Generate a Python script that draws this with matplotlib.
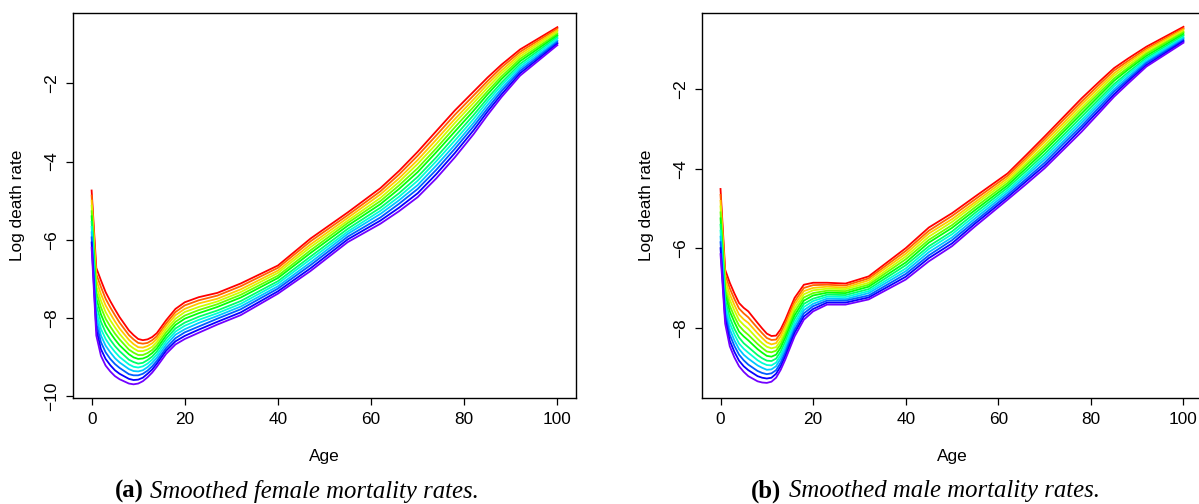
"""
Smoothed female / male log mortality curves, one line per year
(earliest year red, latest year violet).
"""

import matplotlib
matplotlib.use("Agg")  # no display
import matplotlib.pyplot as plt
import numpy as np

# age grid of each panel
ages_f = [0, 1, 2, 3, 4, 5, 6, 8, 9, 10, 11, 12, 13, 14, 16, 18, 20, 23, 27, 32,
          40, 47, 55, 62, 66, 70, 74, 78, 82, 85, 88, 92, 100]
ages_m = [0, 1, 2, 3, 4, 5, 6, 8, 9, 10, 11, 12, 13, 14, 15, 16, 18, 20, 23, 27, 32,
          40, 45, 50, 55, 62, 66, 70, 74, 78, 82, 85, 88, 92, 100]

# log death rates, one row per year (oldest first)
female_logm = [
    [-4.74, -6.72, -7.04, -7.34, -7.57, -7.78, -7.98, -8.32, -8.44, -8.54, -8.57, -8.55, -8.49, -8.39, -8.06, -7.77, -7.60, -7.47, -7.36, -7.12, -6.66, -5.97, -5.30, -4.68, -4.24, -3.75, -3.22, -2.69, -2.21, -1.85, -1.52, -1.13, -0.56],
    [-4.87, -6.88, -7.21, -7.51, -7.73, -7.93, -8.12, -8.44, -8.55, -8.64, -8.66, -8.64, -8.57, -8.47, -8.14, -7.85, -7.68, -7.55, -7.43, -7.19, -6.72, -6.04, -5.37, -4.76, -4.33, -3.85, -3.33, -2.80, -2.31, -1.94, -1.59, -1.19, -0.60],
    [-5.00, -7.03, -7.39, -7.68, -7.89, -8.09, -8.27, -8.56, -8.67, -8.75, -8.76, -8.72, -8.65, -8.54, -8.21, -7.93, -7.77, -7.63, -7.51, -7.27, -6.79, -6.12, -5.44, -4.84, -4.43, -3.96, -3.44, -2.91, -2.41, -2.02, -1.67, -1.25, -0.64],
    [-5.13, -7.19, -7.56, -7.85, -8.06, -8.24, -8.41, -8.69, -8.78, -8.85, -8.85, -8.81, -8.74, -8.62, -8.29, -8.02, -7.85, -7.72, -7.58, -7.34, -6.85, -6.19, -5.51, -4.93, -4.52, -4.06, -3.55, -3.01, -2.50, -2.11, -1.74, -1.31, -0.68],
    [-5.27, -7.34, -7.73, -8.02, -8.22, -8.40, -8.55, -8.81, -8.89, -8.95, -8.95, -8.90, -8.82, -8.70, -8.37, -8.10, -7.94, -7.80, -7.65, -7.41, -6.92, -6.27, -5.57, -5.01, -4.61, -4.17, -3.66, -3.12, -2.60, -2.20, -1.82, -1.37, -0.73],
    [-5.40, -7.50, -7.91, -8.19, -8.38, -8.55, -8.70, -8.93, -9.01, -9.05, -9.04, -8.99, -8.90, -8.78, -8.45, -8.18, -8.02, -7.88, -7.72, -7.48, -6.98, -6.34, -5.64, -5.09, -4.70, -4.27, -3.76, -3.23, -2.70, -2.28, -1.89, -1.43, -0.77],
    [-5.54, -7.67, -8.10, -8.37, -8.56, -8.72, -8.85, -9.07, -9.13, -9.17, -9.15, -9.08, -8.99, -8.86, -8.53, -8.27, -8.12, -7.97, -7.81, -7.57, -7.06, -6.43, -5.72, -5.18, -4.81, -4.39, -3.89, -3.35, -2.81, -2.38, -1.98, -1.50, -0.81],
    [-5.67, -7.83, -8.28, -8.54, -8.72, -8.87, -9.00, -9.19, -9.25, -9.27, -9.24, -9.17, -9.07, -8.94, -8.61, -8.35, -8.20, -8.05, -7.88, -7.64, -7.12, -6.50, -5.79, -5.26, -4.90, -4.49, -3.99, -3.46, -2.91, -2.46, -2.05, -1.56, -0.85],
    [-5.81, -7.98, -8.45, -8.71, -8.88, -9.03, -9.14, -9.31, -9.36, -9.37, -9.34, -9.26, -9.15, -9.02, -8.69, -8.43, -8.29, -8.13, -7.95, -7.71, -7.19, -6.58, -5.85, -5.34, -4.99, -4.60, -4.10, -3.57, -3.01, -2.55, -2.13, -1.62, -0.90],
    [-5.94, -8.14, -8.62, -8.88, -9.05, -9.18, -9.28, -9.44, -9.47, -9.47, -9.43, -9.35, -9.24, -9.10, -8.77, -8.52, -8.37, -8.22, -8.02, -7.78, -7.25, -6.65, -5.92, -5.43, -5.08, -4.70, -4.21, -3.67, -3.10, -2.64, -2.20, -1.68, -0.94],
    [-6.07, -8.29, -8.80, -9.05, -9.21, -9.34, -9.43, -9.56, -9.59, -9.58, -9.53, -9.43, -9.32, -9.17, -8.84, -8.60, -8.46, -8.30, -8.10, -7.86, -7.32, -6.73, -5.99, -5.51, -5.18, -4.81, -4.32, -3.78, -3.20, -2.72, -2.28, -1.74, -0.98],
    [-6.20, -8.45, -8.97, -9.22, -9.37, -9.49, -9.57, -9.68, -9.70, -9.68, -9.62, -9.52, -9.40, -9.25, -8.92, -8.68, -8.54, -8.38, -8.17, -7.93, -7.38, -6.80, -6.06, -5.59, -5.27, -4.91, -4.43, -3.89, -3.30, -2.81, -2.35, -1.80, -1.02],
]

male_logm = [
    [-4.51, -6.54, -6.87, -7.14, -7.38, -7.50, -7.59, -7.88, -8.02, -8.15, -8.21, -8.20, -8.04, -7.80, -7.52, -7.25, -6.92, -6.87, -6.87, -6.89, -6.71, -6.00, -5.48, -5.12, -4.70, -4.12, -3.66, -3.19, -2.71, -2.23, -1.79, -1.47, -1.23, -0.93, -0.43],
    [-4.66, -6.66, -7.01, -7.28, -7.52, -7.64, -7.74, -8.01, -8.14, -8.26, -8.31, -8.30, -8.13, -7.89, -7.61, -7.34, -7.00, -6.93, -6.92, -6.94, -6.76, -6.07, -5.56, -5.19, -4.77, -4.18, -3.73, -3.26, -2.78, -2.31, -1.86, -1.53, -1.29, -0.98, -0.47],
    [-4.81, -6.78, -7.16, -7.43, -7.67, -7.79, -7.88, -8.14, -8.26, -8.37, -8.42, -8.39, -8.22, -7.98, -7.70, -7.42, -7.08, -7.00, -6.97, -6.99, -6.81, -6.14, -5.63, -5.27, -4.84, -4.24, -3.79, -3.33, -2.86, -2.38, -1.93, -1.60, -1.34, -1.02, -0.50],
    [-4.95, -6.91, -7.30, -7.57, -7.81, -7.93, -8.03, -8.28, -8.39, -8.48, -8.52, -8.49, -8.32, -8.07, -7.79, -7.51, -7.16, -7.06, -7.02, -7.03, -6.87, -6.21, -5.71, -5.34, -4.90, -4.30, -3.86, -3.41, -2.93, -2.46, -2.00, -1.66, -1.40, -1.07, -0.54],
    [-5.10, -7.03, -7.45, -7.72, -7.95, -8.08, -8.18, -8.41, -8.51, -8.60, -8.62, -8.58, -8.41, -8.16, -7.88, -7.60, -7.24, -7.13, -7.07, -7.08, -6.92, -6.28, -5.79, -5.42, -4.97, -4.36, -3.92, -3.48, -3.01, -2.53, -2.07, -1.73, -1.46, -1.11, -0.57],
    [-5.25, -7.15, -7.59, -7.86, -8.10, -8.22, -8.32, -8.54, -8.63, -8.71, -8.73, -8.68, -8.50, -8.25, -7.97, -7.69, -7.32, -7.19, -7.12, -7.13, -6.97, -6.36, -5.86, -5.49, -5.04, -4.42, -3.99, -3.55, -3.08, -2.61, -2.14, -1.79, -1.51, -1.16, -0.61],
    [-5.41, -7.29, -7.75, -8.03, -8.25, -8.39, -8.49, -8.69, -8.77, -8.83, -8.84, -8.78, -8.60, -8.35, -8.06, -7.78, -7.40, -7.27, -7.17, -7.18, -7.03, -6.43, -5.95, -5.58, -5.11, -4.48, -4.06, -3.63, -3.16, -2.69, -2.22, -1.87, -1.58, -1.21, -0.65],
    [-5.56, -7.41, -7.89, -8.17, -8.40, -8.53, -8.63, -8.82, -8.89, -8.94, -8.95, -8.88, -8.69, -8.44, -8.15, -7.87, -7.48, -7.33, -7.22, -7.23, -7.08, -6.51, -6.02, -5.65, -5.18, -4.54, -4.13, -3.70, -3.23, -2.77, -2.29, -1.93, -1.63, -1.25, -0.69],
    [-5.71, -7.53, -8.04, -8.32, -8.54, -8.68, -8.78, -8.95, -9.01, -9.06, -9.05, -8.97, -8.78, -8.53, -8.24, -7.96, -7.56, -7.40, -7.27, -7.28, -7.13, -6.58, -6.10, -5.73, -5.25, -4.60, -4.19, -3.77, -3.31, -2.84, -2.36, -2.00, -1.69, -1.30, -0.72],
    [-5.85, -7.66, -8.18, -8.46, -8.68, -8.82, -8.93, -9.09, -9.14, -9.17, -9.15, -9.07, -8.88, -8.62, -8.33, -8.05, -7.64, -7.46, -7.32, -7.32, -7.19, -6.65, -6.18, -5.80, -5.32, -4.66, -4.26, -3.85, -3.38, -2.92, -2.43, -2.06, -1.75, -1.34, -0.76],
    [-6.00, -7.78, -8.33, -8.61, -8.83, -8.97, -9.07, -9.22, -9.26, -9.28, -9.26, -9.16, -8.97, -8.71, -8.42, -8.13, -7.72, -7.53, -7.37, -7.37, -7.24, -6.72, -6.25, -5.88, -5.38, -4.72, -4.32, -3.92, -3.46, -2.99, -2.50, -2.13, -1.80, -1.39, -0.79],
    [-6.15, -7.90, -8.47, -8.75, -8.97, -9.11, -9.22, -9.35, -9.38, -9.39, -9.36, -9.26, -9.06, -8.80, -8.51, -8.22, -7.80, -7.59, -7.42, -7.42, -7.29, -6.79, -6.33, -5.95, -5.45, -4.78, -4.39, -3.99, -3.53, -3.07, -2.57, -2.19, -1.86, -1.43, -0.83],
]

xticks = [0, 20, 40, 60, 80, 100]
yticks_f = [-10, -8, -6, -4, -2]
yticks_m = [-8, -6, -4, -2]

SANS = "Liberation Sans"
SERIF = "Liberation Serif"


def draw_panel(ax, ages, rows, ylim, yticks):
    colors = plt.cm.hsv(np.linspace(0, 0.75, len(rows)))
    for i, row in enumerate(rows):
        ax.plot(ages, row, color=colors[i], lw=1.3, solid_joinstyle="round")

    ax.set_xlim(-4, 104)
    ax.set_ylim(*ylim)
    ax.set_xticks(xticks)
    ax.set_yticks(yticks)
    ax.tick_params(direction="out", length=4.8, width=0.9, pad=5.5,
                   labelsize=12.4)
    ax.tick_params(axis="y", labelrotation=90)
    for lab in ax.get_yticklabels():
        lab.set_va("center")
        lab.set_fontfamily(SANS)
    for lab in ax.get_xticklabels():
        lab.set_fontfamily(SANS)
    for sp in ax.spines.values():
        sp.set_linewidth(1.0)

    ax.set_xlabel("Age", fontsize=12.4, family=SANS)
    ax.xaxis.set_label_coords(0.5, -0.152)
    ax.xaxis.label.set_va("center")
    ax.set_ylabel("Log death rate", fontsize=12.4, family=SANS)
    ax.yaxis.set_label_coords(-0.111, 0.5)
    ax.yaxis.label.set_va("center")


def main():
    W, H = 1199, 504
    fig = plt.figure(figsize=(W / 100, H / 100), dpi=100)

    ax1 = fig.add_axes([73 / W, 1 - 398 / H, 503 / W, 385.3 / H])
    draw_panel(ax1, ages_f, female_logm, (-10.05, -0.19), yticks_f)

    ax2 = fig.add_axes([702 / W, 1 - 398 / H, 500 / W, 385.3 / H])
    draw_panel(ax2, ages_m, male_logm, (-9.77, -0.075), yticks_m)

    # sub-captions
    yc = 1 - 491.5 / H
    fs = 17.8
    fig.text(115 / W, yc, "(a)", family=SERIF, fontweight="bold", fontsize=fs,
             ha="left", va="center")
    fig.text(150 / W, yc, "Smoothed female mortality rates.", family=SERIF,
             style="italic", fontsize=fs, ha="left", va="center")
    fig.text(751 / W, yc, "(b)", family=SERIF, fontweight="bold", fontsize=fs,
             ha="left", va="center")
    fig.text(789 / W, yc, "Smoothed male mortality rates.", family=SERIF,
             style="italic", fontsize=fs, ha="left", va="center")

    fig.savefig("out.png", dpi=100)
    plt.close(fig)


if __name__ == "__main__":
    main()
